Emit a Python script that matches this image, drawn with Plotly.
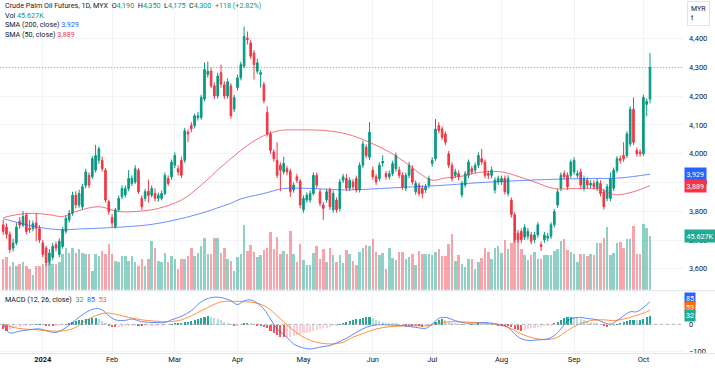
import plotly.graph_objects as go

W, H = 715, 373

month_labels = ["<b>2024</b>", "Feb", "Mar", "Apr", "May", "Jun", "Jul", "Aug", "Sep", "Oct"]
month_start_idx = [12, 33, 52, 71, 91, 112, 130, 151, 173, 194]

opens = [3753,3745,3720,3672,3690,3765,3752,3787,3741,3740,
         3760,3740,3690,3672,3625,3640,3684,3650,3678,3730,
         3770,3793,3856,3822,3815,3890,3925,3920,3943,3977,
         3977,3943,3833,3778,3747,3805,3851,3857,3879,3897,
         3902,3943,3845,3845,3870,3856,3862,3845,3845,3862,
         3914,3920,3960,3948,3977,3977,4075,4098,4098,4126,
         4126,4190,4276,4287,4236,4201,4282,4240,4201,4236,
         4155,4230,4264,4305,4402,4385,4350,4287,4276,4241,
         4144,4069,4006,3977,3960,3937,3948,3939,3874,3920,
         3905,3805,3839,3839,3862,3925,3868,3822,3840,3874,
         3805,3839,3810,3908,3914,3880,3902,3914,3874,3960,
         4023,3988,3943,3920,3914,3968,3931,3920,3931,3948,
         3943,3925,3880,3925,3948,3868,3891,3880,3874,3891,
         3966,3983,4098,4086,4069,4000,3960,3925,3931,3857,
         3891,3925,3948,3943,3960,3983,3971,3931,3925,3874,
         3902,3902,3914,3862,3839,3788,3724,3730,3710,3713,
         3718,3701,3718,3684,3701,3707,3713,3753,3822,3880,
         3931,3925,3925,3937,3925,3937,3880,3908,3891,3897,
         3880,3897,3868,3845,3845,3880,3943,3983,3994,3994,
         4034,4155,4011,4006,4000,4172,4190]
highs = [3770,3758,3730,3705,3760,3780,3801,3795,3770,3768,
         3793,3752,3700,3680,3668,3690,3695,3705,3745,3785,
         3805,3868,3870,3875,3895,3948,3935,3992,4031,4025,
         3990,3950,3840,3790,3812,3855,3890,3890,3943,3925,
         3960,3950,3855,3878,3910,3890,3880,3865,3872,3935,
         3925,3980,4005,3960,3990,4090,4085,4110,4140,4145,
         4205,4317,4321,4300,4248,4282,4310,4252,4262,4245,
         4205,4275,4320,4442,4425,4395,4360,4330,4292,4250,
         4165,4078,4015,4040,3970,3990,3958,3948,3900,3930,
         3912,3855,3866,3872,3935,3935,3878,3832,3878,3882,
         3872,3848,3912,3930,3930,3918,3912,3924,3970,4045,
         4032,4110,3955,3930,3970,3995,3940,3942,3976,4004,
         3955,3935,3935,3972,3960,3907,3900,3890,3895,3924,
         3988,4121,4110,4095,4078,4010,3970,3948,3942,3906,
         3940,3980,3958,3970,4005,4017,3980,3942,3955,3918,
         3924,3924,3924,3925,3848,3797,3735,3740,3755,3742,
         3728,3728,3762,3695,3728,3725,3762,3808,3878,3935,
         3942,3935,3980,3988,3942,3948,3924,3918,3908,3908,
         3912,3908,3878,3895,3935,3952,3992,3994,4040,4078,
         4165,4196,4022,4016,4205,4192,4350]
lows = [3718,3705,3655,3660,3682,3740,3745,3720,3725,3730,
        3696,3690,3640,3610,3612,3630,3660,3640,3670,3722,
        3760,3785,3810,3812,3805,3880,3880,3912,3935,3965,
        3938,3830,3788,3745,3740,3798,3842,3848,3870,3888,
        3895,3860,3805,3835,3830,3848,3835,3833,3838,3855,
        3888,3910,3950,3925,3915,3968,4040,4075,4088,4115,
        4118,4182,4265,4228,4190,4192,4230,4190,4192,4122,
        4145,4220,4255,4298,4380,4330,4258,4278,4230,4175,
        4060,4000,3972,3915,3870,3928,3925,3850,3865,3898,
        3810,3795,3830,3830,3855,3880,3818,3770,3830,3805,
        3795,3795,3800,3898,3870,3870,3875,3865,3865,3950,
        3985,3978,3910,3892,3905,3955,3910,3910,3922,3938,
        3915,3875,3870,3915,3892,3858,3852,3845,3864,3880,
        3955,3975,4070,4048,4030,3950,3904,3915,3908,3848,
        3882,3915,3928,3932,3950,3962,3915,3912,3915,3862,
        3892,3892,3858,3852,3778,3690,3690,3690,3700,3702,
        3685,3690,3708,3662,3690,3696,3704,3744,3812,3870,
        3910,3875,3915,3928,3915,3880,3870,3880,3880,3875,
        3870,3852,3806,3835,3835,3870,3933,3966,3972,3985,
        4025,4030,3990,3990,3992,4130,4175]
closes = [3730,3720,3667,3690,3745,3752,3782,3730,3736,3757,
          3741,3700,3650,3621,3655,3678,3672,3696,3736,3776,
          3793,3856,3822,3862,3885,3937,3891,3983,3994,4017,
          3948,3839,3799,3759,3805,3845,3879,3879,3914,3914,
          3948,3868,3816,3868,3855,3879,3845,3856,3862,3925,
          3897,3971,3994,3937,3925,4080,4069,4086,4132,4132,
          4196,4293,4287,4236,4201,4270,4242,4201,4250,4132,
          4195,4264,4310,4408,4397,4339,4310,4316,4282,4184,
          4069,4012,3983,3925,3943,3966,3937,3868,3891,3908,
          3822,3845,3856,3862,3925,3891,3828,3810,3868,3816,
          3862,3805,3902,3920,3880,3908,3885,3874,3960,4034,
          3994,4075,3920,3902,3960,3973,3920,3931,3966,3994,
          3925,3885,3925,3960,3902,3897,3862,3862,3885,3914,
          3977,4086,4080,4057,4040,3960,3914,3937,3920,3897,
          3931,3971,3937,3960,3994,3971,3925,3925,3943,3908,
          3914,3914,3868,3914,3788,3701,3701,3701,3744,3730,
          3696,3718,3753,3678,3718,3713,3753,3799,3868,3925,
          3920,3885,3971,3977,3931,3891,3914,3891,3897,3885,
          3902,3862,3816,3885,3914,3943,3983,3977,3983,4069,
          4155,4040,4000,4000,4196,4182,4300]

volume_k = [26.0,27.4,20.5,23.2,20.5,21.9,23.2,20.5,17.7,12.2,
            20.5,20.5,21.9,21.9,23.2,21.9,21.9,23.2,30.2,35.7,
            31.5,35.7,31.5,34.3,31.5,30.2,30.2,16.3,30.2,28.8,
            32.9,30.2,38.5,30.2,24.6,23.2,28.8,28.8,24.6,28.8,
            23.2,20.5,26.0,20.5,26.0,41.2,35.7,24.6,23.2,31.5,
            23.2,28.8,26.0,17.7,26.0,26.0,28.8,35.7,28.8,31.5,
            37.1,44.0,30.2,30.2,44.0,44.0,31.5,35.7,26.0,24.6,
            15.8,28.2,30.4,55.3,33.2,37.9,32.4,27.7,29.6,33.8,
            35.1,49.0,34.6,45.1,30.4,33.2,30.4,49.8,30.4,23.5,
            39.3,24.9,21.3,21.3,31.3,37.4,26.3,34.6,23.5,35.1,
            29.6,23.5,29.6,23.0,34.0,30.4,24.1,20.8,31.8,35.4,
            37.9,37.4,42.9,31.8,29.6,31.3,17.4,35.4,27.1,24.9,
            32.4,32.4,26.3,27.7,30.4,21.3,33.2,30.4,30.4,30.4,
            29.1,32.4,34.6,28.5,28.5,38.7,47.0,24.1,29.6,22.1,
            19.4,26.3,
            26.3,17.4,23.5,26.8,35.1,31.8,25.7,35.1,37.4,31.3,
            42.1,34.6,40.1,43.4,42.9,34.6,29.6,24.9,29.1,32.4,
            26.3,26.3,29.1,29.6,29.6,32.7,34.6,41.5,43.4,34.0,
            31.8,30.4,23.5,30.4,30.4,28.5,30.4,29.1,39.6,40.1,
            44.3,53.4,29.6,31.3,39.6,40.7,35.1,42.9,43.4,54.5,
            30.4,30.4,56.2,52.6,45.627]

macd_hist = [-15,-22,-20,-14,-10,-8,-5,-4,-3,-1,
             1,2,0,-2,-4,-5,-5,-3,-1,2,
             6,10,14,17,19,21,22,24,24,20,
             14,6,-2,-8,-10,-9,-8,-6,-4,-3,
             -2,-4,-6,-6,-5,-4,-4,-3,-2,-1,
             0,2,4,6,7,10,12,14,17,20,
             24,30,31,28,24,20,16,11,6,1,
             -4,-4,-1,3,5,4,1,-2,-6,-10,
             -12,-22,-32,-40,-45,-47,-46,-44,-42,-38,
             -35,-32,-29,-26,-23,-20,-17,-14,-11,-8,
             -5,-2,2,6,10,14,17,20,23,27,
             30,30,24,18,14,11,8,6,5,4,
             2,0,-2,-3,-4,-5,-6,-7,-6,-3,
             2,10,16,20,17,11,6,3,1,-1,
             -1,0,1,2,3,2,1,0,-1,-1,
             -2,-3,-4,-6,-10,-16,-20,-22,-20,-17,
             -14,-12,-10,-8,-6,-4,-2,3,10,18,
             24,28,30,28,26,22,18,14,10,6,
             3,0,-6,-10,-6,-2,2,6,10,14,
             17,18,16,19,22,28,32]

macd_idx = [0,2,5,8,11,14,16,19,22,25,28,30,32,34,37,39,42,46,49,51,54,57,60,63,66,69,71,73,75,77,79,81,83,86,88,91,93,96,99,101,104,107,110,113,116,121,125,128,130,132,134,137,140,142,145,150,153,155,157,159,162,165,167,169,171,174,177,180,182,184,186,188,190,192,194,196]
macd_vals = [1,-32,-25,-20,-17,-27,-30,-12,17,44,59,54,32,17,15,20,10,7,7,17,30,51,84,100,100,88,74,88,91,79,57,20,-17,-48,-73,-88,-92,-85,-79,-69,-52,-30,-11,-2,-2,-5,-11,-15,1,22,26,14,5,5,7,1,-11,-36,-54,-60,-58,-54,-42,-17,14,26,22,17,7,1,14,32,47,47,63,85]
signal_idx = [0,3,6,10,15,19,22,25,28,31,34,38,42,46,50,54,58,62,66,70,74,77,80,83,86,89,92,95,99,103,106,110,113,117,123,129,133,137,142,148,153,157,161,165,168,171,174,178,182,185,188,191,194,196]
signal_vals = [2,-11,-17,-20,-25,-23,-11,14,32,42,38,26,17,12,10,17,38,63,84,86,84,79,63,32,-2,-32,-54,-67,-73,-67,-48,-30,-17,-9,-5,-5,7,10,7,1,-11,-36,-52,-57,-48,-23,-2,14,17,14,20,30,42,53]

sma200_idx = [0,5,11,17,24,34,44,51,60,66,69,72,79,85,94,104,114,124,134,141,148,159,169,179,187,196]
sma200_vals = [3774,3759,3744,3736,3739,3744,3753,3767,3793,3816,3828,3843,3862,3879,3879,3874,3879,3885,3891,3897,3902,3908,3912,3914,3916,3929]
sma50_idx = [0,4,9,14,18,22,29,35,42,47,54,60,66,69,74,79,84,89,97,104,111,117,123,127,130,134,139,144,151,155,161,167,173,181,184,186,191,196]
sma50_vals = [3778,3788,3793,3788,3782,3799,3816,3799,3801,3810,3839,3891,3954,3983,4029,4063,4081,4083,4081,4069,4040,4006,3960,3925,3908,3916,3922,3935,3937,3925,3902,3879,3879,3877,3862,3857,3868,3889]

price_ticks = [3600, 3700, 3800, 3900, 4000, 4100, 4200, 4300, 4400]
last_price = 4300
last_volume_k = 45.627
sma200_last, sma50_last = 3929, 3889
macd_last, signal_last, hist_last = 85, 53, 32

UP, DOWN = "#089981", "#f23645"
TXT = "#131722"
GRID = "#f2f3f6"
FONT = "Roboto"

x = list(range(len(closes)))


def py(px):
    return 1 - px / H


XD = [0, 683 / W]
XR = [-0.97, 206.0]

fig = go.Figure()

vol_colors = ["rgba(8,153,129,0.45)" if c >= o else "rgba(242,54,69,0.45)" for o, c in zip(opens, closes)]
fig.add_trace(go.Bar(x=x, y=volume_k, marker=dict(color=vol_colors, line=dict(width=0)),
                     width=0.78, xaxis="x", yaxis="y", hoverinfo="skip"))

fig.add_trace(go.Candlestick(x=x, open=opens, high=highs, low=lows, close=closes,
                             increasing=dict(line=dict(color=UP, width=1), fillcolor=UP),
                             decreasing=dict(line=dict(color=DOWN, width=1), fillcolor=DOWN),
                             whiskerwidth=0, xaxis="x", yaxis="y2"))

fig.add_trace(go.Scatter(x=sma200_idx, y=sma200_vals, mode="lines",
                         line=dict(color="#2962ff", width=1, shape="spline", smoothing=1.0),
                         opacity=0.7, xaxis="x", yaxis="y2"))
fig.add_trace(go.Scatter(x=sma50_idx, y=sma50_vals, mode="lines",
                         line=dict(color="#f23645", width=1, shape="spline", smoothing=1.0),
                         opacity=0.7, xaxis="x", yaxis="y2"))

hist_colors = []
prev = 0
for h in macd_hist:
    if h >= 0:
        hist_colors.append("#26a69a" if h >= prev else "#b2dfdb")
    else:
        hist_colors.append("#ff5252" if h < prev else "#ffcdd2")
    prev = h
fig.add_trace(go.Bar(x=x, y=macd_hist, marker=dict(color=hist_colors, line=dict(width=0)),
                     width=0.62, xaxis="x2", yaxis="y3"))
fig.add_trace(go.Scatter(x=macd_idx, y=macd_vals, mode="lines",
                         line=dict(color="#2962ff", width=1, shape="spline", smoothing=1.0),
                         opacity=0.75, xaxis="x2", yaxis="y3"))
fig.add_trace(go.Scatter(x=signal_idx, y=signal_vals, mode="lines",
                         line=dict(color="#ff6d00", width=1, shape="spline", smoothing=1.0),
                         opacity=0.75, xaxis="x2", yaxis="y3"))

tickfont = dict(family=FONT, size=7.5, color=TXT)

fig.update_layout(
    width=W, height=H, margin=dict(l=0, r=0, t=0, b=0),
    paper_bgcolor="white", plot_bgcolor="white", showlegend=False,
    bargap=0,
    xaxis=dict(domain=XD, range=XR, anchor="y2", showticklabels=False, tickvals=month_start_idx,
               showgrid=True, gridcolor=GRID, gridwidth=1, zeroline=False, rangeslider=dict(visible=False),
               fixedrange=True),
    xaxis2=dict(domain=XD, range=XR, anchor="y3", tickvals=month_start_idx, ticktext=month_labels,
                showgrid=True, gridcolor=GRID, zeroline=False, ticks="", tickfont=tickfont),
    yaxis=dict(domain=[py(292), 1], range=[0, 246.7], visible=False, anchor="x"),
    yaxis2=dict(domain=[py(292), 1], range=[3527.6, 4534.5], overlaying="y", side="right", anchor="x",
                tickvals=price_ticks, ticktext=[f"{v:,}" for v in price_ticks], ticks="",
                ticklabelstandoff=5, showgrid=True, gridcolor=GRID, zeroline=False, tickfont=tickfont),
    yaxis3=dict(domain=[py(356), py(294)], range=[-107.4, 122.2], side="right", anchor="x2",
                tickvals=[0, -100], ticktext=["0", "\u2212100"], ticks="", ticklabelstandoff=5,
                showgrid=True, gridcolor=GRID, zeroline=False, tickfont=tickfont),
)

shapes = [
    dict(type="line", xref="paper", yref="y2", x0=0, x1=XD[1], y0=last_price, y1=last_price,
         line=dict(color="rgba(8,153,129,0.55)", width=1, dash="1px,2px")),
    dict(type="line", xref="paper", yref="y3", x0=0, x1=XD[1], y0=0, y1=0,
         line=dict(color="#b2b5be", width=1, dash="3px,3px")),
    dict(type="line", xref="paper", yref="paper", x0=0, x1=1, y0=py(293), y1=py(293),
         line=dict(color="#e0e3eb", width=1)),
    dict(type="line", xref="paper", yref="paper", x0=0, x1=1, y0=py(356.5), y1=py(356.5),
         line=dict(color="#e0e3eb", width=1)),
]
fig.update_layout(shapes=shapes)

lf = dict(family=FONT, size=7.2, color=TXT)


def span(t, c):
    return f'<span style="color:{c}">{t}</span>'


sp = "&nbsp;&nbsp;"
ann = []
line1 = ("Crude Palm Oil Futures, 1D, MYX" + sp + "O" + span(f"{opens[-1]:,}", UP) + sp + "H" + span(f"{highs[-1]:,}", UP)
         + sp + "L" + span(f"{lows[-1]:,}", UP) + sp + "C" + span(f"{closes[-1]:,}", UP) + sp
         + span(f"+{closes[-1]-closes[-2]} (+2.82%)", UP))
ann.append(dict(text=line1, x=3 / W, y=py(6), xref="paper", yref="paper", xanchor="left", yanchor="middle",
                showarrow=False, font=lf))
ann.append(dict(text="Vol" + "&nbsp;" + span(f"{last_volume_k:.3f}K", UP), x=3 / W, y=py(15.5), xref="paper",
                yref="paper", xanchor="left", yanchor="middle", showarrow=False, font=lf))
ann.append(dict(text="SMA (200, close)" + "&nbsp;" + span(f"{sma200_last:,}", "#2962ff"), x=3 / W, y=py(25),
                xref="paper", yref="paper", xanchor="left", yanchor="middle", showarrow=False, font=lf))
ann.append(dict(text="SMA (50, close)" + "&nbsp;" + span(f"{sma50_last:,}", DOWN), x=3 / W, y=py(34.5),
                xref="paper", yref="paper", xanchor="left", yanchor="middle", showarrow=False, font=lf))
ann.append(dict(text="MACD (12, 26, close)" + sp + span(hist_last, "#26a69a") + sp + span(macd_last, "#2962ff")
                + sp + span(signal_last, "#ff6d00"), x=3 / W, y=py(302), xref="paper", yref="paper",
                xanchor="left", yanchor="middle", showarrow=False, font=lf))

tagfont = dict(family=FONT, size=7.2, color="white")
tx = 684 / W
ann.append(dict(text=f"{sma200_last:,}", x=tx, y=sma200_last, xref="paper", yref="y2", xanchor="left",
                yanchor="middle", showarrow=False, font=tagfont, bgcolor="#2962ff", borderpad=1.5))
ann.append(dict(text=f"{sma50_last:,}", x=tx, y=sma50_last, xref="paper", yref="y2", xanchor="left",
                yanchor="middle", showarrow=False, font=tagfont, bgcolor=DOWN, borderpad=1.5))
ann.append(dict(text=f"{last_volume_k:.3f}K", x=tx, y=last_volume_k, xref="paper", yref="y", xanchor="left",
                yanchor="middle", showarrow=False, font=tagfont, bgcolor="#22ab94", borderpad=1.5))
ann.append(dict(text=str(macd_last), x=tx, y=macd_last, yshift=3, xref="paper", yref="y3", xanchor="left",
                yanchor="middle", showarrow=False, font=tagfont, bgcolor="#2962ff", borderpad=1))
ann.append(dict(text=str(signal_last), x=tx, y=signal_last, yshift=2.5, xref="paper", yref="y3", xanchor="left",
                yanchor="middle", showarrow=False, font=tagfont, bgcolor="#ff6d00", borderpad=1))
ann.append(dict(text=str(hist_last), x=tx, y=hist_last, xref="paper", yref="y3", xanchor="left",
                yanchor="middle", showarrow=False, font=tagfont, bgcolor="#22ab94", borderpad=1))
ann.append(dict(text="MYR<br>t", x=687 / W, y=py(1), xref="paper", yref="paper", xanchor="left", yanchor="top",
                align="left", showarrow=False, font=dict(family=FONT, size=7, color=TXT),
                bordercolor="#e0e3eb", borderwidth=1, borderpad=3, bgcolor="white"))
fig.update_layout(annotations=ann)

fig.write_html("out.html", config={"displayModeBar": False},
               post_script="document.body.style.margin='0';document.body.style.padding='0';")
